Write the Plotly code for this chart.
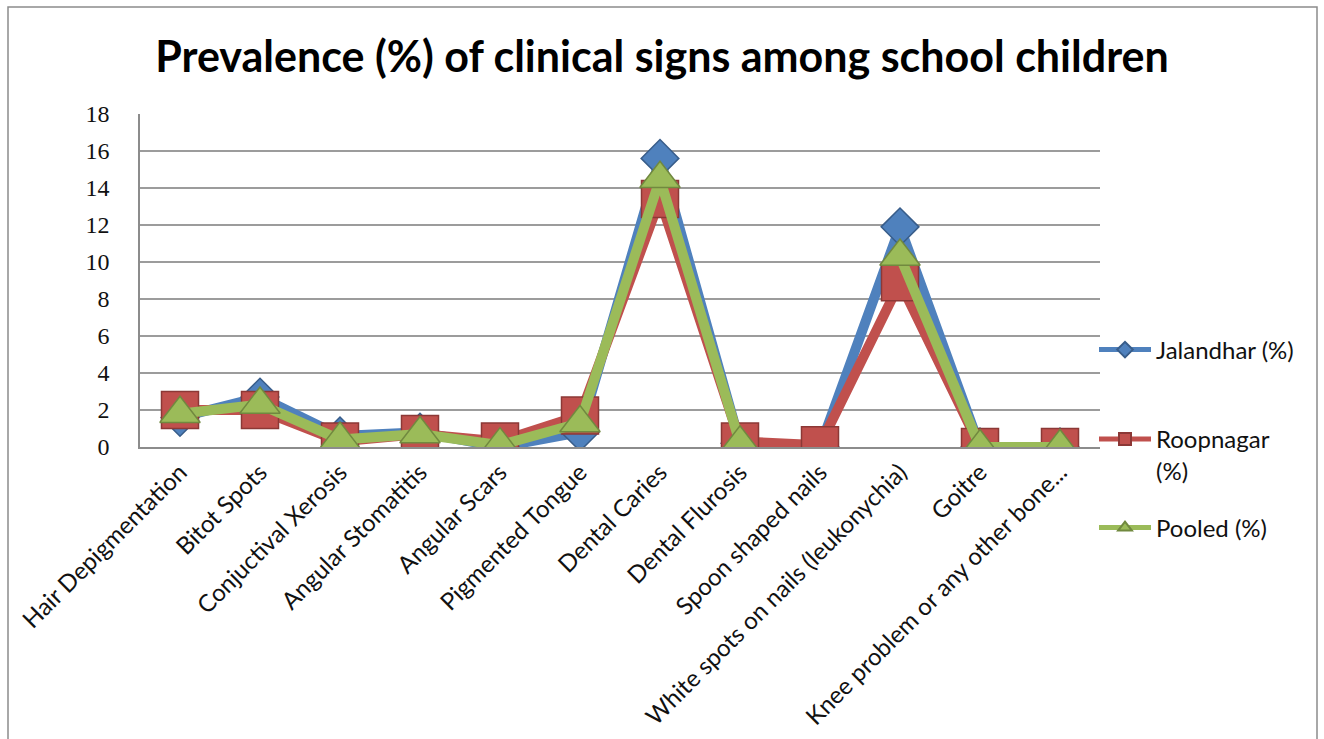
import plotly.graph_objects as go

# Clinical signs observed in the school survey
categories = [
    "Hair Depigmentation", "Bitot Spots", "Conjuctival Xerosis",
    "Angular Stomatitis", "Angular Scars", "Pigmented Tongue",
    "Dental Caries", "Dental Flurosis", "Spoon shaped nails",
    "White spots on nails (leukonychia)", "Goitre",
    "Knee problem or any other bone...",
]

jalandhar = [1.6, 2.7, 0.6, 0.8, 0.0, 0.8, 15.6, 0.2, 0.0, 11.9, 0.0, 0.0]
roopnagar = [2.0, 2.0, 0.3, 0.7, 0.3, 1.7, 13.4, 0.3, 0.1, 8.9, 0.0, 0.0]
pooled = [1.8, 2.3, 0.4, 0.7, 0.1, 1.3, 14.5, 0.2, None, 10.3, 0.0, 0.0]

y_ticks = [0, 2, 4, 6, 8, 10, 12, 14, 16, 18]

W, H = 1324, 739
L, R, T, B = 140, 224, 114, 292

BLUE, BLUE_D = "#4F81BD", "#385D8A"
RED, RED_D = "#C0504D", "#8C3836"
GREEN, GREEN_D = "#9BBB59", "#71893F"

fig = go.Figure()

series = [
    ("Jalandhar (%)", jalandhar, BLUE, BLUE_D, "diamond", 29, "legend"),
    ("Roopnagar<br>(%)", roopnagar, RED, RED_D, "square", 37, "legend2"),
    ("Pooled (%)", pooled, GREEN, GREEN_D, "triangle-up", 35, "legend3"),
]
for name, vals, col, edge, sym, size, leg in series:
    fig.add_trace(go.Scatter(
        x=categories, y=vals, name=name, mode="lines+markers",
        connectgaps=False,
        line=dict(color=col, width=10),
        marker=dict(symbol=sym, size=size, color=col,
                    line=dict(color=edge, width=1.5)),
        legend=leg,
    ))

legend_common = dict(
    xref="container", yref="container", xanchor="left", yanchor="middle",
    bgcolor="rgba(0,0,0,0)", itemwidth=52, itemsizing="constant",
    font=dict(family="Lato", size=24, color="#111111"),
    valign="top",
)

fig.update_layout(
    width=W, height=H,
    margin=dict(l=L, r=R, t=T, b=B, autoexpand=False),
    paper_bgcolor="white", plot_bgcolor="white",
    title=dict(
        text="<b>Prevalence (%) of clinical signs among school children</b>",
        x=0.5, xref="container", xanchor="center",
        y=1 - 57 / H, yref="container", yanchor="middle",
        font=dict(family="Lato", size=43, color="#000000"),
    ),
    xaxis=dict(
        type="category", range=[-0.5, len(categories) - 0.5],
        tickangle=-45, showgrid=False, showline=True,
        linecolor="#8C8C8C", linewidth=1.5, ticks="",
        tickfont=dict(family="Lato", size=24, color="#111111"),
        automargin=False,
    ),
    yaxis=dict(
        range=[0, 18], tickvals=y_ticks, showgrid=True,
        gridcolor="#9C9C9C", gridwidth=1.5, zeroline=False,
        showline=True, linecolor="#8C8C8C", linewidth=1.5, ticks="",
        ticklabelstandoff=24,
        tickfont=dict(family="Liberation Serif", size=24, color="#111111"),
        automargin=False,
    ),
    legend=dict(x=1094 / W, y=1 - 350 / H, **legend_common),
    legend2=dict(x=1094 / W, y=1 - 455 / H, **legend_common),
    legend3=dict(x=1094 / W, y=1 - 528 / H, **legend_common),
    showlegend=True,
)

# Chart-area border
fig.add_shape(
    type="rect", xref="paper", yref="paper",
    x0=(8 - L) / (W - L - R), x1=(1317 - L) / (W - L - R),
    y0=-(H + 10 - (H - B)) / (H - T - B), y1=(H - B - 7) / (H - T - B),
    line=dict(color="#8C8C8C", width=1.5), layer="below",
)

fig.write_html("out.html")
